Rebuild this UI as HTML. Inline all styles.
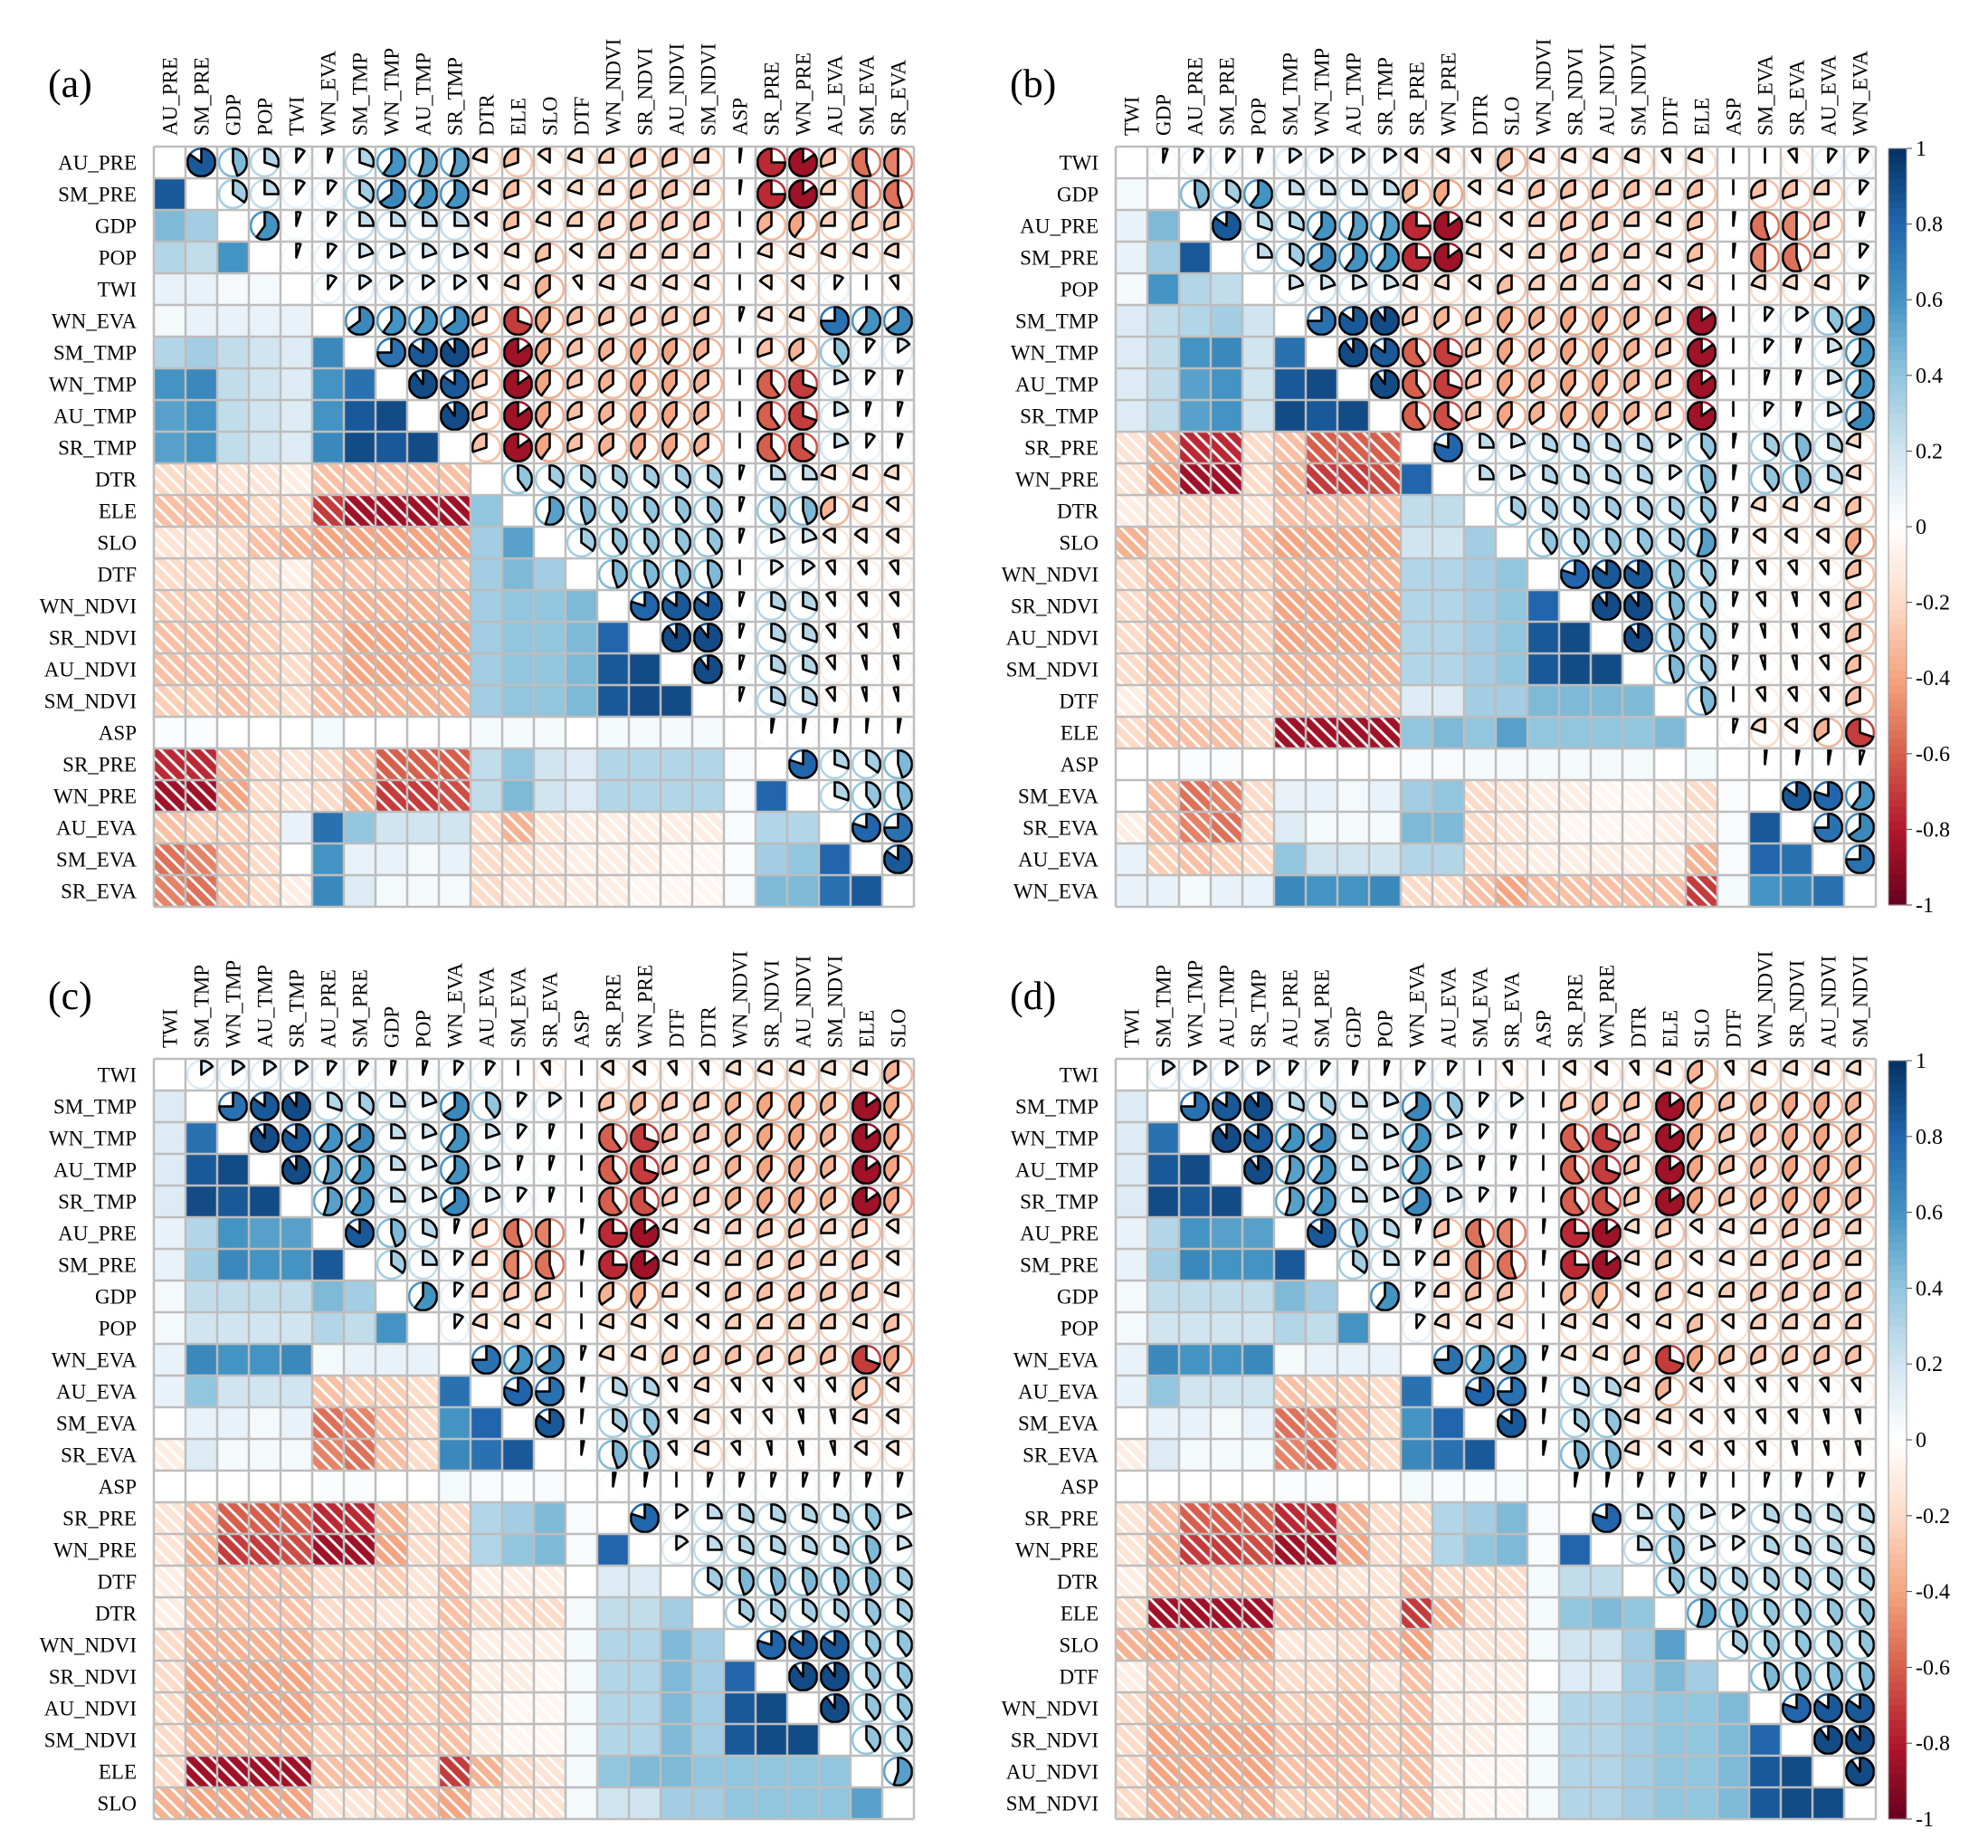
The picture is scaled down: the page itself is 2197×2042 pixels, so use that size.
<!DOCTYPE html>
<html><head><meta charset="utf-8"><style>
html,body{margin:0;padding:0;background:#fff}
svg{display:block;font-family:"Liberation Serif",serif}
</style></head><body>
<svg id="chart" width="2197" height="2042" viewBox="0 0 2197 2042" xmlns="http://www.w3.org/2000/svg">
<defs>
<pattern id="hatch" patternUnits="userSpaceOnUse" width="11" height="11" patternTransform="rotate(-45)">
<rect x="0" y="0" width="3" height="11" fill="#fff" opacity="0.95"/>
</pattern>
</defs>
</svg>
<script>
const vars = ["AU_PRE","SM_PRE","GDP","POP","TWI","WN_EVA","SM_TMP","WN_TMP","AU_TMP","SR_TMP","DTR","ELE","SLO","DTF","WN_NDVI","SR_NDVI","AU_NDVI","SM_NDVI","ASP","SR_PRE","WN_PRE","AU_EVA","SM_EVA","SR_EVA"];
const corrRows = [
/*AU_PRE*/ [0.85,0.45,0.3,0.1,0.05,0.3,0.6,0.55,0.55,-0.2,-0.3,-0.15,-0.2,-0.25,-0.3,-0.3,-0.25,0.02,-0.75,-0.85,-0.3,-0.55,-0.5],
/*SM_PRE*/ [0.35,0.25,0.1,0.1,0.35,0.65,0.6,0.6,-0.2,-0.3,-0.15,-0.2,-0.25,-0.3,-0.3,-0.25,0.02,-0.75,-0.85,-0.25,-0.5,-0.55],
/*GDP*/ [0.6,0.05,0.1,0.25,0.25,0.25,0.25,-0.15,-0.3,-0.2,-0.25,-0.3,-0.3,-0.3,-0.3,0,-0.35,-0.4,-0.25,-0.3,-0.3],
/*POP*/ [0.05,0.1,0.2,0.2,0.2,0.2,-0.15,-0.2,-0.3,-0.15,-0.25,-0.25,-0.25,-0.25,0,-0.2,-0.2,-0.2,-0.2,-0.2],
/*TWI*/ [0.1,0.15,0.15,0.15,0.15,-0.1,-0.2,-0.35,-0.1,-0.2,-0.2,-0.2,-0.2,0,-0.15,-0.15,0.1,0,-0.1],
/*WN_EVA*/ [0.65,0.6,0.6,0.65,-0.3,-0.7,-0.4,-0.3,-0.3,-0.3,-0.3,-0.3,0.05,-0.2,-0.2,0.75,0.6,0.65],
/*SM_TMP*/ [0.75,0.85,0.9,-0.3,-0.85,-0.4,-0.3,-0.35,-0.4,-0.4,-0.35,0,-0.3,-0.35,0.4,0.1,0.15],
/*WN_TMP*/ [0.9,0.85,-0.3,-0.85,-0.4,-0.3,-0.35,-0.4,-0.4,-0.35,0,-0.6,-0.7,0.2,0.1,0.05],
/*AU_TMP*/ [0.9,-0.3,-0.85,-0.4,-0.3,-0.35,-0.4,-0.4,-0.35,0,-0.6,-0.7,0.2,0.05,0.05],
/*SR_TMP*/ [-0.3,-0.85,-0.4,-0.3,-0.35,-0.4,-0.4,-0.35,0,-0.6,-0.65,0.2,0.1,0.05],
/*DTR*/ [0.4,0.35,0.35,0.35,0.35,0.35,0.35,0.05,0.25,0.25,-0.2,-0.2,-0.2],
/*ELE*/ [0.55,0.45,0.4,0.4,0.4,0.4,0.05,0.4,0.45,-0.35,-0.2,-0.15],
/*SLO*/ [0.35,0.4,0.4,0.4,0.4,0.05,0.2,0.2,-0.15,-0.15,-0.15],
/*DTF*/ [0.45,0.45,0.45,0.45,0,0.15,0.15,-0.1,-0.1,-0.1],
/*WN_NDVI*/ [0.8,0.85,0.85,0.05,0.3,0.3,-0.1,-0.1,-0.1],
/*SR_NDVI*/ [0.9,0.9,0.05,0.3,0.3,-0.1,-0.1,-0.05],
/*AU_NDVI*/ [0.9,0.05,0.3,0.3,-0.1,-0.05,-0.05],
/*SM_NDVI*/ [0.05,0.3,0.3,-0.1,-0.05,-0.05],
/*ASP*/ [0.03,0.03,0.03,0.02,0.03],
/*SR_PRE*/ [0.8,0.3,0.35,0.45],
/*WN_PRE*/ [0.3,0.4,0.45],
/*AU_EVA*/ [0.8,0.75],
/*SM_EVA*/ [0.85]
];
const orderA = ["AU_PRE","SM_PRE","GDP","POP","TWI","WN_EVA","SM_TMP","WN_TMP","AU_TMP","SR_TMP","DTR","ELE","SLO","DTF","WN_NDVI","SR_NDVI","AU_NDVI","SM_NDVI","ASP","SR_PRE","WN_PRE","AU_EVA","SM_EVA","SR_EVA"];
const orderB = ["TWI","GDP","AU_PRE","SM_PRE","POP","SM_TMP","WN_TMP","AU_TMP","SR_TMP","SR_PRE","WN_PRE","DTR","SLO","WN_NDVI","SR_NDVI","AU_NDVI","SM_NDVI","DTF","ELE","ASP","SM_EVA","SR_EVA","AU_EVA","WN_EVA"];
const orderC = ["TWI","SM_TMP","WN_TMP","AU_TMP","SR_TMP","AU_PRE","SM_PRE","GDP","POP","WN_EVA","AU_EVA","SM_EVA","SR_EVA","ASP","SR_PRE","WN_PRE","DTF","DTR","WN_NDVI","SR_NDVI","AU_NDVI","SM_NDVI","ELE","SLO"];
const orderD = ["TWI","SM_TMP","WN_TMP","AU_TMP","SR_TMP","AU_PRE","SM_PRE","GDP","POP","WN_EVA","AU_EVA","SM_EVA","SR_EVA","ASP","SR_PRE","WN_PRE","DTR","ELE","SLO","DTF","WN_NDVI","SR_NDVI","AU_NDVI","SM_NDVI"];
const tickLabels = ["1","0.8","0.6","0.4","0.2","0","-0.2","-0.4","-0.6","-0.8","-1"];

const NS = "http://www.w3.org/2000/svg";
const svg = document.getElementById("chart");
function el(tag, attrs, parent){const e=document.createElementNS(NS,tag);for(const k in attrs)e.setAttribute(k,attrs[k]);(parent||svg).appendChild(e);return e;}
function corr(a,b){
  const i=vars.indexOf(a), j=vars.indexOf(b);
  if(i===j) return 1;
  const lo=Math.min(i,j), hi=Math.max(i,j);
  return corrRows[lo][hi-lo-1];
}
const stops=[[-1,[103,0,31]],[-0.8,[178,24,43]],[-0.6,[214,96,77]],[-0.4,[244,165,130]],[-0.2,[253,219,199]],[0,[255,255,255]],[0.2,[209,229,240]],[0.4,[146,197,222]],[0.6,[67,147,195]],[0.8,[33,102,172]],[1,[5,48,97]]];
function color(v){
  v=Math.max(-1,Math.min(1,v));
  for(let k=0;k<stops.length-1;k++){
    const [a,ca]=stops[k],[b,cb]=stops[k+1];
    if(v>=a&&v<=b){const t=(v-a)/(b-a);return "rgb("+ca.map((c,i)=>Math.round(c+(cb[i]-c)*t)).join(",")+")";}
  }
  return "#fff";
}
const CELL=35;
function panel(order, x0, y0, label, name){
  const g=el("g",{});
  
  
  const n=order.length;
  const lab=el("text",{x:x0-117,y:y0-55,"font-size":44,fill:"#000"},g);
  lab.textContent=label;
  
  
  el("rect",{x:x0,y:y0,width:n*CELL,height:n*CELL,fill:"#fff"},g);
  for(let r=0;r<n;r++){
    for(let c=0;c<n;c++){
      const x=x0+c*CELL, y=y0+r*CELL;
      if(r===c) continue;
      const v=corr(order[r],order[c]);
      const col=color(v);
      if(r>c){
        const sq=el("rect",{x:x+1,y:y+1,width:CELL-2,height:CELL-2,fill:col},g);
        
        
        if(v<0) el("rect",{x:x+1,y:y+1,width:CELL-2,height:CELL-2,fill:"url(#hatch)"},g);
      } else {
        const cx=x+CELL/2, cy=y+CELL/2, R=CELL*0.44;
        el("circle",{cx:cx,cy:cy,r:R,fill:"none",stroke:col,"stroke-width":2.5},g);
        const ang=Math.abs(v)*2*Math.PI*0.999;
        const dir=v>=0?1:-1;
        const ex=cx+R*Math.sin(ang*dir), ey=cy-R*Math.cos(ang);
        const large=ang>Math.PI?1:0, sweep=v>=0?1:0;
        const p=el("path",{d:`M${cx},${cy} L${cx},${cy-R} A${R},${R} 0 ${large} ${sweep} ${ex},${ey} Z`,fill:col,stroke:"#000","stroke-width":2.6,"stroke-linejoin":"round"},g);
        
        
      }
    }
  }
  for(let k=0;k<=n;k++){
    el("line",{x1:x0+k*CELL,y1:y0,x2:x0+k*CELL,y2:y0+n*CELL,stroke:"#bdbdbd","stroke-width":2.5},g);
    el("line",{x1:x0,y1:y0+k*CELL,x2:x0+n*CELL,y2:y0+k*CELL,stroke:"#bdbdbd","stroke-width":2.5},g);
  }
  for(let k=0;k<n;k++){
    const t=el("text",{x:x0-19,y:y0+k*CELL+CELL/2+8,"font-size":23,"text-anchor":"end",fill:"#000"},g);
    t.textContent=order[k];
    
    
    const cx=x0+k*CELL+CELL/2+8, cy=y0-12;
    const u=el("text",{x:cx,y:cy,"font-size":23,transform:`rotate(-90 ${cx} ${cy})`,fill:"#000"},g);
    u.textContent=order[k];
    
    
  }
}
function colorbar(x0,y0,h,name){
  const g=el("g",{});
  
  
  const steps=100;
  for(let s=0;s<steps;s++){
    const v=1-2*(s+0.5)/steps;
    el("rect",{x:x0,y:y0+s*h/steps,width:20,height:h/steps+0.6,fill:color(v)},g);
  }
  el("rect",{x:x0,y:y0,width:20,height:h,fill:"none",stroke:"#999","stroke-width":1},g);
  tickLabels.forEach((lab,k)=>{
    const y=y0+k*h/(tickLabels.length-1);
    el("line",{x1:x0+20,y1:y,x2:x0+26,y2:y,stroke:"#444","stroke-width":1},g);
    const t=el("text",{x:x0+30,y:y+8,"font-size":24,fill:"#000"},g);
    t.textContent=lab;
    
    
  });
}
panel(orderA,170,162,"(a)","panel-a");
panel(orderB,1233,162,"(b)","panel-b");
panel(orderC,170,1170,"(c)","panel-c");
panel(orderD,1233,1170,"(d)","panel-d");
colorbar(2087,164,836,"colorbar-top");
colorbar(2087,1172,838,"colorbar-bottom");
</script>
</body></html>
